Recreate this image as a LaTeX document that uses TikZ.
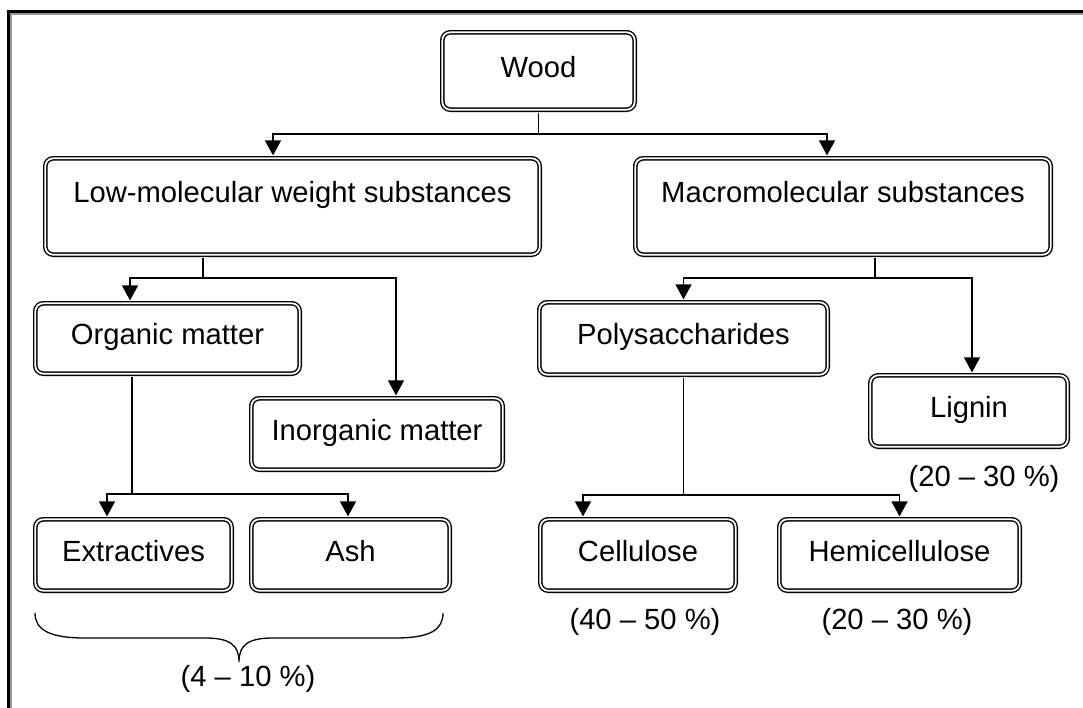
\documentclass[tikz,border=0pt]{standalone}
\usepackage{fontspec}
\setmainfont{Liberation Sans}
\usetikzlibrary{arrows.meta}
\definecolor{framegray}{RGB}{150,150,150}
\begin{document}
\begin{tikzpicture}[x=1pt,y=-1pt,
  box/.style={draw=black, line width=1.4pt, double=white, double distance=1.8pt,
    rounded corners=8pt, inner sep=0pt, text height=16pt, text depth=4pt,
    font=\fontsize{29.2}{34}\selectfont},
  bigbox/.style={box, text height=43.7pt, text depth=52.6pt},
  conn/.style={line width=1.4pt},
  arrow/.style={conn, -{Triangle[width=16pt,length=15pt]}, shorten >=2.2pt},
  lbl/.style={font=\fontsize{29.2}{34}\selectfont, inner sep=0pt, anchor=base}]
\useasboundingbox (0,0) rectangle (1083,707);
% frame
\draw[line width=3.3pt, line join=miter] (8.3,710) -- (8.3,11.7) -- (1086,11.7);
\draw[framegray, line width=1.7pt, line join=miter] (10.9,710) -- (10.9,14.2) -- (1086,14.2);

% boxes
\node[box, minimum width=192.4pt, minimum height=77.4pt] (wood) at (538.5,71) {Wood};
\node[bigbox, minimum width=494.4pt, minimum height=96.4pt] (lowmol) at (292.5,206.5) {Low-molecular weight substances};
\node[bigbox, minimum width=415.4pt, minimum height=96.4pt] (macro) at (843,206.5) {Macromolecular substances};
\node[box, minimum width=264.4pt, minimum height=70.4pt] (organic) at (167.5,338.5) {Organic matter};
\node[box, minimum width=251.4pt, minimum height=71.4pt] (inorganic) at (377,434) {Inorganic matter};
\node[box, minimum width=288.4pt, minimum height=72.4pt] (poly) at (683.5,338.5) {Polysaccharides};
\node[box, minimum width=197.4pt, minimum height=71.4pt] (lignin) at (969,411) {Lignin};
\node[box, minimum width=196.4pt, minimum height=71.4pt] (extract) at (133.5,555) {Extractives};
\node[box, minimum width=198.4pt, minimum height=71.4pt] (ash) at (350.5,555) {Ash};
\node[box, minimum width=195.4pt, minimum height=71.4pt] (cellulose) at (638,555) {Cellulose};
\node[box, minimum width=240.4pt, minimum height=71.4pt] (hemi) at (899.5,555) {Hemicellulose};

% labels
\node[lbl] (plignin) at (984,486) {(20 – 30 \%)};
\node[lbl] (pcell) at (645,629) {(40 – 50 \%)};
\node[lbl] (phemi) at (897,629) {(20 – 30 \%)};
\node[lbl] (pext) at (248,686) {(4 – 10 \%)};

% connectors
\coordinate (wj) at (538.5,134);
\draw[conn, shorten <=2.2pt] (wood.south) -- (wj);
\draw[arrow] (wj) -| ([xshift=-19.5pt]lowmol.north);
\draw[arrow] (wj) -| ([xshift=-16pt]macro.north);

\coordinate (lj) at (203,278);
\draw[conn, shorten <=2.2pt] ([xshift=-89.5pt]lowmol.south) -- (lj);
\draw[arrow] (lj) -| ([xshift=-37.5pt]organic.north);
\draw[arrow] (lj) -| ([xshift=19pt]inorganic.north);

\coordinate (oj) at (132,494);
\draw[conn, shorten <=2.2pt] ([xshift=-35.5pt]organic.south) -- (oj);
\draw[arrow] (oj) -| ([xshift=-26.5pt]extract.north);
\draw[arrow] (oj) -| ([xshift=-2.5pt]ash.north);

\coordinate (mj) at (875,278);
\draw[conn, shorten <=2.2pt] ([xshift=32pt]macro.south) -- (mj);
\draw[arrow] (mj) -| (poly.north);
\draw[arrow] (mj) -| ([xshift=3pt]lignin.north);

\coordinate (pj) at (683.5,495);
\draw[conn, shorten <=2.2pt] (poly.south) -- (pj);
\draw[arrow] (pj) -| ([xshift=-55pt]cellulose.north);
\draw[arrow] (pj) -| (hemi.north);

% brace
\draw[line width=1.3pt] (35,613) .. controls (35,630) and (50,638) .. (85,638) -- (205,638)
  .. controls (230,638) and (239,645) .. (239,662)
  .. controls (239,645) and (248,638) .. (273,638) -- (395,638)
  .. controls (430,638) and (443,630) .. (443,613);
\end{tikzpicture}
\end{document}
